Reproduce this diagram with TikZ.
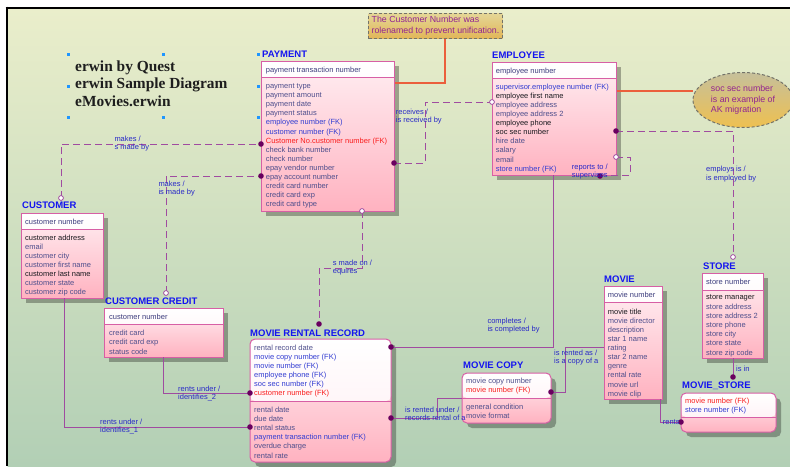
\documentclass[tikz,border=0pt]{standalone}
\usepackage{fontspec}
\setmainfont{Liberation Sans}
\newfontfamily\ttlfont{Liberation Serif}
\usetikzlibrary{shapes.geometric}
\definecolor{bgT}{RGB}{234,238,203}
\definecolor{bgB}{RGB}{178,207,181}
\definecolor{titB}{RGB}{20,20,240}
\definecolor{attC}{RGB}{78,78,140}
\definecolor{keyC}{RGB}{60,60,125}
\definecolor{fkC}{RGB}{50,60,210}
\definecolor{blkC}{RGB}{25,25,30}
\definecolor{redC}{RGB}{250,30,30}
\definecolor{labB}{RGB}{40,40,200}
\definecolor{relC}{RGB}{160,75,160}
\definecolor{dotC}{RGB}{105,0,95}
\definecolor{entB}{RGB}{215,95,165}
\definecolor{pkA}{RGB}{255,236,241}
\definecolor{pkB}{RGB}{255,238,242}
\definecolor{pkC}{RGB}{255,178,192}
\definecolor{noteT}{RGB}{228,214,150}
\definecolor{noteB}{RGB}{226,182,88}
\definecolor{ellT}{RGB}{198,192,155}
\definecolor{ellB}{RGB}{238,192,80}
\definecolor{purT}{RGB}{145,35,145}
\definecolor{redL}{RGB}{235,95,60}
\definecolor{hdlC}{RGB}{30,150,255}
\definecolor{dashG}{RGB}{115,115,105}
\definecolor{ttlC}{RGB}{30,30,30}
\pgfdeclarelayer{bgl}\pgfdeclarelayer{shl}\pgfdeclarelayer{lnl}\pgfsetlayers{bgl,shl,lnl,main}
\newcommand{\attrrows}[1]{\begin{tabular}[t]{@{}l@{}}#1\end{tabular}}
\newcommand{\FK}[1]{\textcolor{fkC}{#1}}
\newcommand{\RD}[1]{\textcolor{redC}{#1}}
\newcommand{\BK}[1]{\textcolor{blkC}{#1}}
\tikzset{
 ent/.style={draw=entB, line width=1pt, inner sep=0pt, outer sep=0pt, anchor=north west,
   top color=pkB, bottom color=pkC,
   path picture={\shade[top color=white,bottom color=pkA] (path picture bounding box.north west) rectangle ([yshift=-#1]path picture bounding box.north east);
     \draw[entB,line width=1pt] ([yshift=-#1]path picture bounding box.north west) -- ([yshift=-#1]path picture bounding box.north east);}},
 rnd/.style={rounded corners=5pt},
 etitle/.style={anchor=base west, inner sep=0pt, font=\fontsize{9.5}{10}\selectfont\bfseries, text=titB},
 attr/.style={anchor=base west, inner sep=0pt, font=\fontsize{7.5}{9.1}\selectfont, text=attC},
 rlab/.style={anchor=base west, inner sep=0pt, font=\fontsize{7.5}{8.4}\selectfont, text=labB},
 rel/.style={draw=relC, line width=1pt},
 reld/.style={rel, dash pattern=on 7pt off 4pt},
 fdot/.style={fill=dotC},
 hdot/.style={fill=white, draw=relC, line width=0.8pt},
 redline/.style={draw=redL, line width=1.1pt},
 shad/.style={fill=black, opacity=0.3},
 notebox/.style={draw=dashG, dash pattern=on 3pt off 2pt, line width=1pt, inner sep=0pt, align=left, text=purT, font=\fontsize{8.8}{10.7}\selectfont}
}
\begin{document}
\begin{tikzpicture}[x=1pt,y=-1pt]
\useasboundingbox (0,0) rectangle (790,466);
\begin{pgfonlayer}{bgl}
\fill[white] (0,0) rectangle (790,466);
\shade[top color=bgT, bottom color=bgB] (7.5,8.5) rectangle (790,466);
\draw[black, line width=2pt] (5.5,7.5) -- (790,7.5);
\draw[black, line width=2pt] (6.5,6.5) -- (6.5,466);
\end{pgfonlayer}

% title block
\node[anchor=base west, inner sep=0pt, text=ttlC, font=\ttlfont\bfseries\fontsize{15.4}{17.4}\selectfont] (ttl) at (75,71.5)
  {\attrrows{erwin by Quest\\erwin Sample Diagram\\eMovies.erwin}};
\foreach \p in {(68,54),(163,54),(258,54),(68,86),(258,86),(68,117),(163,117),(258,117)}
  \fill[hdlC] \p ++(-1.5,-1.5) rectangle ++(3,3);

% notes
\node[notebox, top color=noteT, bottom color=noteB, anchor=north west, minimum width=134pt, minimum height=25pt] (note) at (368,13)
  {The Customer Number was\\rolenamed to prevent unification.};
\node[notebox, ellipse, top color=ellT, bottom color=ellB, minimum width=100pt, minimum height=55pt] (ak) at (743,100)
  {soc sec number\\is an example of\\AK migration};

% entities
\node[ent=16pt, minimum width=133pt, minimum height=150pt] (pay) at (261,61) {};
\node[ent=16pt, minimum width=124pt, minimum height=113pt] (emp) at (492,62) {};
\node[ent=16pt, minimum width=82pt, minimum height=85pt] (cust) at (21,213) {};
\node[ent=16pt, minimum width=119pt, minimum height=49pt] (cc) at (104,308) {};
\node[ent=62pt, rnd, minimum width=141pt, minimum height=123pt] (mrr) at (250,339) {};
\node[ent=25pt, rnd, minimum width=89pt, minimum height=50pt] (mc) at (462,373) {};
\node[ent=16pt, minimum width=58pt, minimum height=113pt] (mov) at (604,286) {};
\node[ent=17pt, minimum width=61pt, minimum height=85pt] (sto) at (702,273) {};
\node[ent=24pt, rnd, minimum width=95pt, minimum height=39pt] (ms) at (681,393) {};

\begin{pgfonlayer}{shl}
\foreach \n in {pay,emp,cust,cc,mov,sto}
  \fill[shad] ([xshift=5pt,yshift=-5pt]\n.north west) rectangle ([xshift=5pt,yshift=-5pt]\n.south east);
\foreach \n in {mrr,mc,ms}
  \fill[shad, rnd] ([xshift=5pt,yshift=-5pt]\n.north west) rectangle ([xshift=5pt,yshift=-5pt]\n.south east);
\end{pgfonlayer}
\begin{pgfonlayer}{lnl}
\draw[redline] (note.south -| 445,0) |- (pay.east |- 0,83);
\draw[redline] (emp.east |- 0,91) -- (ak.west |- 0,91);
\end{pgfonlayer}

% titles
\node[etitle] (payT) at (262,57.3) {PAYMENT};
\node[etitle] (empT) at (492,58) {EMPLOYEE};
\node[etitle] (custT) at (22,208) {CUSTOMER};
\node[etitle] (ccT) at (105,304) {CUSTOMER CREDIT};
\node[etitle] (mrrT) at (250,336) {MOVIE RENTAL RECORD};
\node[etitle] (mcT) at (463,368) {MOVIE COPY};
\node[etitle] (movT) at (604,282) {MOVIE};
\node[etitle] (stoT) at (703,269) {STORE};
\node[etitle] (msT) at (682,388) {MOVIE\_STORE};

% attributes
\node[attr, text=keyC] (payK) at (265.7,72) {\attrrows{payment transaction number}};
\node[attr] (payN) at (265.7,88.5) {\attrrows{payment type\\payment amount\\payment date\\payment status\\\FK{employee number (FK)}\\\FK{customer number (FK)}\\\RD{Customer No.customer number (FK)}\\check bank number\\check number\\epay vendor number\\epay account number\\credit card number\\credit card exp\\credit card type}};
\node[attr, text=keyC] (empK) at (495.7,73.5) {\attrrows{employee number}};
\node[attr] (empN) at (495.7,89.2) {\attrrows{\FK{supervisor.employee number (FK)}\\\BK{employee first name}\\employee address\\employee address 2\\\BK{employee phone}\\\BK{soc sec number}\\hire date\\salary\\email\\\FK{store number (FK)}}};
\node[attr, text=keyC] (custK) at (25,224.2) {\attrrows{customer number}};
\node[attr] (custN) at (25,240.2) {\attrrows{\BK{customer address}\\email\\customer city\\customer first name\\\BK{customer last name}\\customer state\\customer zip code}};
\node[attr, text=keyC] (ccK) at (109,319.2) {\attrrows{customer number}};
\node[attr] (ccN) at (109,335.8) {\attrrows{credit card\\credit card exp\\status code}};
\node[attr] (mrrK) at (254,350.2) {\attrrows{rental record date\\\FK{movie copy number (FK)}\\\FK{movie number (FK)}\\\FK{employee phone (FK)}\\\FK{soc sec number (FK)}\\\RD{customer number (FK)}}};
\node[attr] (mrrN) at (254,412.5) {\attrrows{rental date\\due date\\rental status\\\FK{payment transaction number (FK)}\\overdue charge\\rental rate}};
\node[attr] (mcK) at (466,383.5) {\attrrows{movie copy number\\\RD{movie number (FK)}}};
\node[attr] (mcN) at (466,409.2) {\attrrows{general condition\\movie format}};
\node[attr, text=keyC] (movK) at (607.7,297.2) {\attrrows{movie number}};
\node[attr] (movN) at (607.7,314.2) {\attrrows{\BK{movie title}\\movie director\\description\\star 1 name\\rating\\star 2 name\\genre\\rental rate\\movie url\\movie clip}};
\node[attr, text=keyC] (stoK) at (706,284.5) {\attrrows{store number}};
\node[attr, font=\fontsize{7.5}{9.2}\selectfont] (stoN) at (706,299.8) {\attrrows{\BK{store manager}\\store address\\store address 2\\store phone\\store city\\store state\\store zip code}};
\node[attr] (msK) at (685,403.2) {\attrrows{\RD{movie number (FK)}\\\FK{store number (FK)}}};

% relationship end points
\coordinate (r1a) at (61,198);
\coordinate (r2a) at (166,293);
\coordinate (r4b) at (319,324);
\coordinate (r5b) at (733,257);
\coordinate (r6b) at (600,176);
\coordinate (r13b) at (733,377);

% connectors
\draw[reld] (r1a) |- (pay.west |- 0,144);
\draw[reld] (r2a) |- (pay.west |- 0,176);
\draw[reld] (pay.east |- 0,163) -- (425,163) |- (emp.west |- 0,102);
\draw[reld] (pay.south -| 362,0) -- (362,268) -| (r4b);
\draw[reld] (emp.east |- 0,131) -| (r5b);
\draw[reld] (emp.east |- 0,157) -| (630,175) -- (r6b |- 0,175);
\draw[rel] (emp.south -| 553,0) |- (mrr.east |- 0,347);
\draw[rel] (cust.south -| 64,0) |- (mrr.west |- 0,427);
\draw[rel] (cc.south -| 163,0) |- (mrr.west |- 0,393);
\draw[rel] (mrr.east |- 0,418) -| (437,398) -- (mc.west |- 0,398);
\draw[rel] (mc.east |- 0,392) -| (565,347) -- (mov.west |- 0,347);
\draw[rel] (mov.south -| 660,0) |- (ms.west |- 0,422);
\draw[rel] (sto.south -| 733,0) -- (r13b);

% ends
\foreach \c in {(pay.west |- 0,144),(pay.west |- 0,176),(pay.east |- 0,163),(r4b),(emp.east |- 0,131),(r6b),(mrr.east |- 0,347),(mrr.west |- 0,427),(mrr.west |- 0,393),(mrr.east |- 0,418),(mc.east |- 0,392),(ms.west |- 0,422),(r13b)}
  \fill[fdot] \c circle[radius=2.8];
\foreach \c in {(r1a),(r2a),(emp.west |- 0,102),(pay.south -| 362,0),(r5b),(emp.east |- 0,157)}
  \filldraw[hdot] \c circle[radius=2.4];

% relationship labels
\node[rlab] (l1) at (114.3,141.5) {\attrrows{makes /\\s made by}};
\node[rlab] (l2) at (158.3,186.5) {\attrrows{makes /\\is made by}};
\node[rlab] (l3) at (395.7,114.2) {\attrrows{receives /\\is received by}};
\node[rlab] (l4) at (332.7,265.2) {\attrrows{s made on /\\equires}};
\node[rlab] (l5) at (571.7,169.2) {\attrrows{reports to /\\supervises}};
\node[rlab] (l6) at (706,171.8) {\attrrows{employs is /\\is employed by}};
\node[rlab] (l7) at (487.3,323.5) {\attrrows{completes /\\is completed by}};
\node[rlab] (l8) at (178,391.5) {\attrrows{rents under /\\identifies\_2}};
\node[rlab] (l9) at (100,424.5) {\attrrows{rents under /\\identifies\_1}};
\node[rlab] (l10) at (405,412.5) {\attrrows{is rented under /\\records rental of a}};
\node[rlab] (l11) at (554,355.2) {\attrrows{is rented as /\\is a copy of a}};
\node[rlab] (l12) at (662.7,424.5) {rents};
\node[rlab] (l13) at (736,371.8) {is in};
\end{tikzpicture}
\end{document}
